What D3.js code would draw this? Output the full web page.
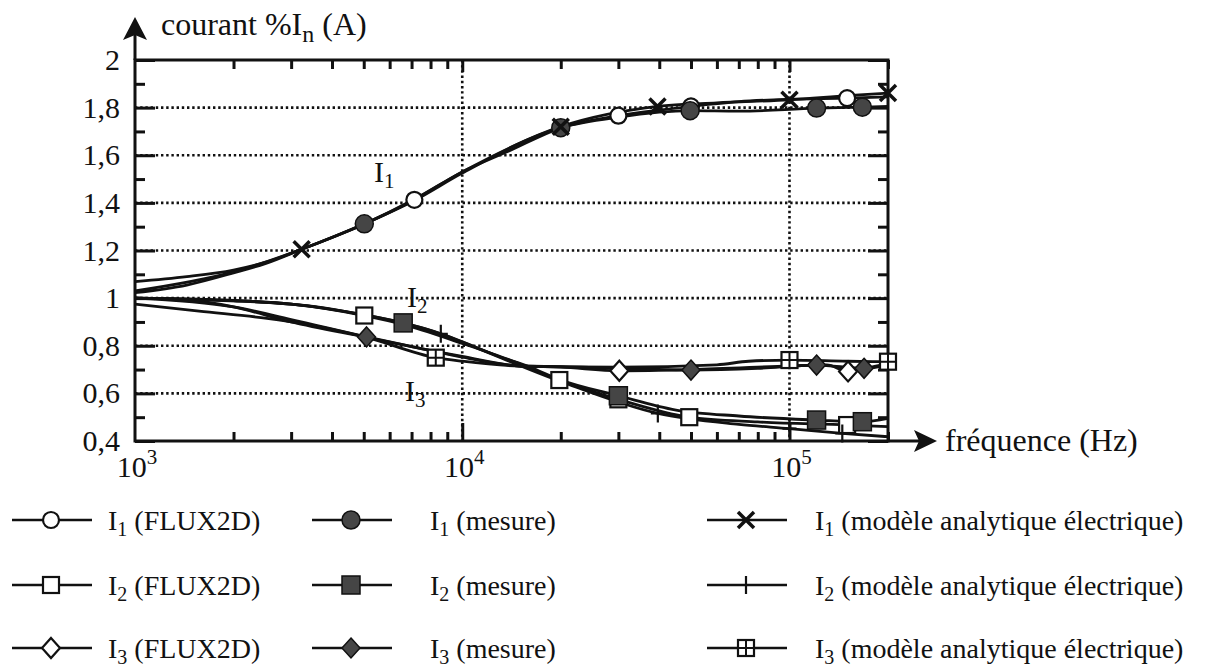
<!DOCTYPE html>
<html>
<head>
<meta charset="utf-8">
<script src="https://cdn.jsdelivr.net/npm/d3@7"></script>
<style>
body { margin: 0; background: #fff; }
svg text { font-family: "Liberation Serif", "Times New Roman", serif; fill: #111; }
</style>
</head>
<body>
<svg id="chart" width="1208" height="672"></svg>
<script>

// axis values
var freqDomain = [1e3, 2e5];
var freqMajor = [1e3, 1e4, 1e5];
var freqExp = ["3", "4", "5"];
var yMajor = [0.4, 0.6, 0.8, 1, 1.2, 1.4, 1.6, 1.8, 2];
var yLabels = ["0,4", "0,6", "0,8", "1", "1,2", "1,4", "1,6", "1,8", "2"];

// I1 curves [frequency, current]
var i1Flux = [[1000,1.069],[1440,1.09],[2000,1.118],[2500,1.15],[3230,1.205],[5000,1.31],[7140,1.413],[10000,1.53],[14000,1.62],[20000,1.715],[30000,1.766],[50000,1.805],[70000,1.825],[100000,1.835],[150000,1.84],[200000,1.845]];
var i1FluxMarks = [[7140,1.413],[30000,1.766],[50000,1.805],[150000,1.84]];
var i1Mes = [[1000,1.03],[2000,1.11],[3230,1.205],[5020,1.312],[7140,1.41],[10000,1.525],[20000,1.716],[30000,1.76],[49700,1.787],[70000,1.785],[121000,1.798],[167000,1.802],[200000,1.805]];
var i1MesMarks = [[5020,1.312],[20000,1.716],[49700,1.787],[121000,1.798],[167000,1.802]];
var i1Ana = [[1000,1.023],[1440,1.055],[2000,1.106],[2500,1.145],[3230,1.205],[5000,1.31],[7140,1.415],[10000,1.53],[20000,1.72],[39500,1.805],[60000,1.82],[100000,1.833],[150000,1.85],[200000,1.861]];
var i1AnaMarks = [[3230,1.205],[20000,1.72],[39500,1.805],[100000,1.833],[200000,1.861]];

// I2 curves
var i2Flux = [[1000,1.0],[2000,0.99],[3000,0.975],[5020,0.927],[6600,0.89],[10000,0.81],[14000,0.74],[19800,0.656],[30000,0.575],[49400,0.50],[80000,0.48],[150000,0.467],[200000,0.46]];
var i2FluxMarks = [[5020,0.927],[19800,0.656],[30000,0.575],[49400,0.50],[150000,0.467]];
var i2Mes = [[1000,1.0],[2000,0.99],[3000,0.975],[5000,0.93],[6600,0.896],[8600,0.85],[10000,0.817],[13000,0.754],[16000,0.712],[20000,0.656],[30000,0.59],[45000,0.53],[70000,0.505],[121000,0.488],[167000,0.481],[200000,0.495]];
var i2MesMarks = [[6600,0.896],[30000,0.59],[121000,0.488],[167000,0.481]];
var i2Ana = [[1000,1.0],[3000,0.975],[5000,0.93],[8600,0.85],[10000,0.815],[20000,0.65],[39600,0.516],[70000,0.47],[100000,0.452],[145000,0.432],[200000,0.418]];
var i2AnaMarks = [[8600,0.85],[39600,0.516],[100000,0.452],[145000,0.432]];

// I3 curves
var i3Flux = [[1000,1.0],[1500,0.99],[2000,0.963],[3000,0.9],[5100,0.835],[8000,0.78],[10000,0.755],[15000,0.715],[20000,0.71],[30200,0.695],[50000,0.70],[100000,0.715],[130000,0.72],[151000,0.692],[170000,0.705],[200000,0.725]];
var i3FluxMarks = [[30200,0.695],[151000,0.692]];
var i3Mes = [[1000,1.0],[2000,0.963],[3000,0.91],[5100,0.837],[8000,0.78],[10000,0.752],[15000,0.715],[20000,0.712],[50000,0.698],[80000,0.705],[121000,0.719],[169000,0.705],[200000,0.72]];
var i3MesMarks = [[5100,0.837],[50000,0.698],[121000,0.719],[169000,0.705]];
var i3Ana = [[1000,0.975],[1570,0.945],[2530,0.915],[3180,0.895],[5100,0.835],[8300,0.75],[10000,0.735],[15000,0.715],[30000,0.71],[60000,0.72],[75000,0.735],[100000,0.74],[150000,0.735],[200000,0.733]];
var i3AnaMarks = [[8300,0.75],[100000,0.74],[200000,0.733]];

var series = [
    {line: i1Flux, marks: i1FluxMarks, sym: "circleOpen",  sub: "1", name: " (FLUX2D)", col: 0, row: 0},
    {line: i1Mes,  marks: i1MesMarks,  sym: "circleFull",  sub: "1", name: " (mesure)", col: 1, row: 0},
    {line: i1Ana,  marks: i1AnaMarks,  sym: "cross",       sub: "1", name: " (modèle analytique électrique)", col: 2, row: 0},
    {line: i2Flux, marks: i2FluxMarks, sym: "squareOpen",  sub: "2", name: " (FLUX2D)", col: 0, row: 1},
    {line: i2Mes,  marks: i2MesMarks,  sym: "squareFull",  sub: "2", name: " (mesure)", col: 1, row: 1},
    {line: i2Ana,  marks: i2AnaMarks,  sym: "plus",        sub: "2", name: " (modèle analytique électrique)", col: 2, row: 1},
    {line: i3Flux, marks: i3FluxMarks, sym: "diamondOpen", sub: "3", name: " (FLUX2D)", col: 0, row: 2},
    {line: i3Mes,  marks: i3MesMarks,  sym: "diamondFull", sub: "3", name: " (mesure)", col: 1, row: 2},
    {line: i3Ana,  marks: i3AnaMarks,  sym: "squareGrid",  sub: "3", name: " (modèle analytique électrique)", col: 2, row: 2}
];

// plot box (named so they don't clash with window.top)
var boxL = 135, boxR = 888, boxT = 60, boxB = 441;
var ink = "#111", grey = "#454545";

var svg = d3.select("#chart");

var x = d3.scaleLog().domain(freqDomain).range([boxL, boxR]);
var y = d3.scaleLinear().domain([0.4, 2]).range([boxB, boxT]);

var xMinor = x.ticks().filter(function(d) { return freqMajor.indexOf(d) < 0; });
var yMinor = y.ticks(16).filter(function(d) { return Math.round(d * 10) % 2 == 1; });

// dotted grid
svg.append("g").selectAll("line")
    .data(yMajor.filter(function(d) { return d > 0.5 && d < 1.9; }))
    .enter().append("line")
    .attr("x1", boxL).attr("x2", boxR)
    .attr("y1", function(d) { return y(d); }).attr("y2", function(d) { return y(d); })
    .attr("stroke", ink).attr("stroke-width", 2.6).attr("stroke-dasharray", "2.4,2.8");

svg.append("g").selectAll("line")
    .data([1e4, 1e5])
    .enter().append("line")
    .attr("y1", boxT).attr("y2", boxB)
    .attr("x1", function(d) { return x(d); }).attr("x2", function(d) { return x(d); })
    .attr("stroke", ink).attr("stroke-width", 2.6).attr("stroke-dasharray", "2.4,2.8");

// ticks, all pointing inside the frame
function tickAxis(axis, pos) {
    var g = svg.append("g").attr("transform", pos).call(axis);
    g.select(".domain").remove();
    g.selectAll(".tick line").attr("stroke", ink).attr("stroke-width", 3);
    return g;
}

var yAxis = tickAxis(d3.axisLeft(y).tickValues(yMajor).tickSize(-20).tickPadding(15)
    .tickFormat(function(d, i) { return yLabels[i]; }), "translate(" + boxL + ",0)");
yAxis.selectAll("text").attr("font-size", 30).attr("fill", ink)
    .style("font-family", "'Liberation Serif', 'Times New Roman', serif");
tickAxis(d3.axisLeft(y).tickValues(yMinor).tickSize(-10).tickFormat(""), "translate(" + boxL + ",0)");
tickAxis(d3.axisRight(y).tickValues(yMajor).tickSize(-20).tickFormat(""), "translate(" + boxR + ",0)");
tickAxis(d3.axisRight(y).tickValues(yMinor).tickSize(-10).tickFormat(""), "translate(" + boxR + ",0)");
tickAxis(d3.axisBottom(x).tickValues(xMinor).tickSize(-9).tickFormat(""), "translate(0," + boxB + ")");
tickAxis(d3.axisBottom(x).tickValues([1e4, 1e5]).tickSize(-18).tickFormat(""), "translate(0," + boxB + ")");
tickAxis(d3.axisTop(x).tickValues(xMinor).tickSize(-9).tickFormat(""), "translate(0," + boxT + ")");
tickAxis(d3.axisTop(x).tickValues([1e4, 1e5]).tickSize(-12).tickFormat(""), "translate(0," + boxT + ")");

// frame
svg.append("rect")
    .attr("x", boxL).attr("y", boxT).attr("width", boxR - boxL).attr("height", boxB - boxT)
    .attr("fill", "none").attr("stroke", ink).attr("stroke-width", 3);

// axis arrows
svg.append("line").attr("x1", boxL).attr("x2", boxL).attr("y1", boxT).attr("y2", 34)
    .attr("stroke", ink).attr("stroke-width", 3);
svg.append("path").attr("d", "M135,17L147,40L135,35L123,40Z").attr("fill", ink);
svg.append("line").attr("x1", boxR).attr("x2", 924).attr("y1", boxB).attr("y2", boxB)
    .attr("stroke", ink).attr("stroke-width", 3);
svg.append("path").attr("d", "M937,441L914,430L919,441L914,452Z").attr("fill", ink);

// x tick labels 10^n
var xl = svg.append("g").selectAll("text")
    .data(freqMajor)
    .enter().append("text")
    .attr("x", function(d) { return x(d) + 2; })
    .attr("y", 477)
    .attr("text-anchor", "middle")
    .attr("font-size", 30);
xl.append("tspan").text("10");
xl.append("tspan").attr("dy", -13).attr("font-size", 21).text(function(d, i) { return freqExp[i]; });

// axis titles
var yt = svg.append("text").attr("x", 161).attr("y", 35).attr("font-size", 32);
yt.append("tspan").text("courant %I");
yt.append("tspan").attr("dy", 7).attr("font-size", 24).text("n");
yt.append("tspan").attr("dy", -7).text(" (A)");

svg.append("text").attr("x", 945).attr("y", 451).attr("font-size", 32).text("fréquence (Hz)");

// curve labels
function curveLabel(px, py, sub) {
    var t = svg.append("text").attr("x", px).attr("y", py).attr("font-size", 30);
    t.append("tspan").text("I");
    t.append("tspan").attr("dy", 6).attr("font-size", 21).text(sub);
}
curveLabel(374, 182, "1");
curveLabel(407, 307, "2");
curveLabel(405, 401, "3");

// marker shapes
function drawSymbol(g, type) {
    if (type == "circleOpen")
        g.append("circle").attr("r", 8).attr("fill", "#fff").attr("stroke", ink).attr("stroke-width", 2.2);
    else if (type == "circleFull")
        g.append("circle").attr("r", 9).attr("fill", grey).attr("stroke", ink).attr("stroke-width", 1.5);
    else if (type == "cross")
        g.append("path").attr("d", "M-8,-8L8,8M-8,8L8,-8").attr("stroke", ink).attr("stroke-width", 3.5);
    else if (type == "squareOpen")
        g.append("rect").attr("x", -8).attr("y", -8).attr("width", 16).attr("height", 16)
            .attr("fill", "#fff").attr("stroke", ink).attr("stroke-width", 2.2);
    else if (type == "squareFull")
        g.append("rect").attr("x", -9).attr("y", -9).attr("width", 18).attr("height", 18)
            .attr("fill", grey).attr("stroke", ink).attr("stroke-width", 1.5);
    else if (type == "plus")
        g.append("path").attr("d", "M0,-9V9M-7,0H7").attr("stroke", ink).attr("stroke-width", 2.2);
    else if (type == "diamondOpen")
        g.append("path").attr("d", "M0,-10L9,0L0,10L-9,0Z")
            .attr("fill", "#fff").attr("stroke", ink).attr("stroke-width", 2.2);
    else if (type == "diamondFull")
        g.append("path").attr("d", "M0,-10L9,0L0,10L-9,0Z")
            .attr("fill", grey).attr("stroke", ink).attr("stroke-width", 1.5);
    else if (type == "squareGrid") {
        g.append("rect").attr("x", -8).attr("y", -8).attr("width", 16).attr("height", 16)
            .attr("fill", "#fff").attr("stroke", ink).attr("stroke-width", 2.2);
        g.append("path").attr("d", "M0,-8V8M-8,0H8").attr("stroke", ink).attr("stroke-width", 2);
    }
}

var line = d3.line()
    .x(function(d) { return x(d[0]); })
    .y(function(d) { return y(d[1]); })
    .curve(d3.curveMonotoneX);

var plot = svg.append("g");

plot.selectAll("path.curve")
    .data(series)
    .enter().append("path")
    .attr("class", "curve")
    .attr("d", function(s) { return line(s.line); })
    .attr("fill", "none")
    .attr("stroke", ink)
    .attr("stroke-width", 2.8);

series.forEach(function(s) {
    s.marks.forEach(function(m) {
        var g = plot.append("g").attr("transform", "translate(" + x(m[0]) + "," + y(m[1]) + ")");
        drawSymbol(g, s.sym);
    });
});

// legend, three columns by three rows
var legCols = [{x0: 12, tx: 108}, {x0: 312, tx: 430}, {x0: 707, tx: 815}];
var legRows = [520, 585, 648];

series.forEach(function(s) {
    var c = legCols[s.col], ry = legRows[s.row];
    svg.append("line").attr("x1", c.x0).attr("x2", c.x0 + 80).attr("y1", ry).attr("y2", ry)
        .attr("stroke", ink).attr("stroke-width", 2.6);
    drawSymbol(svg.append("g").attr("transform", "translate(" + (c.x0 + 39) + "," + ry + ")"), s.sym);

    var t = svg.append("text").attr("x", c.tx).attr("y", ry + 10).attr("font-size", 28);
    t.append("tspan").text("I");
    t.append("tspan").attr("dy", 6).attr("font-size", 20).text(s.sub);
    t.append("tspan").attr("dy", -6).text(s.name);
});

</script>
</body>
</html>
